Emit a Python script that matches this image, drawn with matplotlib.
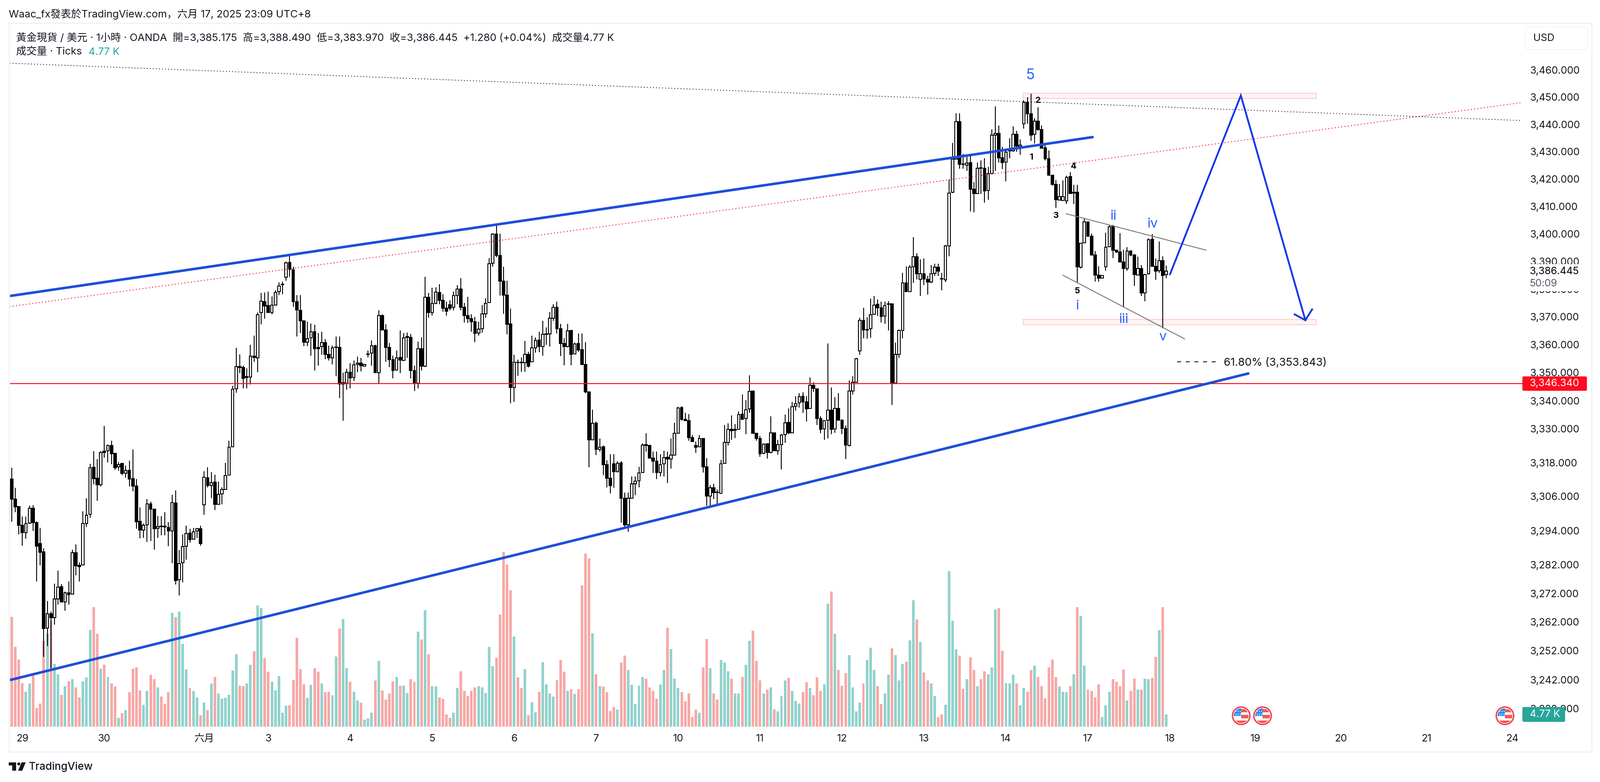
import matplotlib
matplotlib.use("Agg")
import matplotlib.pyplot as plt
from matplotlib.patches import Rectangle, Circle, Polygon, FancyBboxPatch
from matplotlib.transforms import Affine2D

W, H = 3670, 1794
plt.rcParams["font.family"] = ["Inter", "Noto Sans CJK JP", "Noto Sans CJK TC", "Noto Sans CJK SC"]

opens = [3311.0,3312.1,3305.0,3302.4,3295.8,3293.2,3296.6,3301.9,3296.8,3289.4,
3286.5,3259.8,3264.8,3263.5,3270.0,3274.3,3269.0,3272.2,3271.7,3286.2,
3281.8,3281.9,3296.4,3299.7,3316.3,3312.4,3310.1,3322.1,3322.2,3324.0,
3321.2,3316.4,3317.7,3314.2,3315.3,3312.3,3309.7,3297.2,3294.1,3296.0,
3303.4,3301.5,3294.8,3295.6,3295.5,3295.1,3293.9,3303.7,3276.7,3282.7,
3288.5,3293.1,3290.9,3293.8,3294.6,3303.1,3312.6,3309.9,3311.0,3303.2,
3306.9,3308.5,3313.6,3323.5,3344.2,3352.1,3351.8,3348.2,3348.4,3355.9,
3355.3,3371.6,3375.5,3374.1,3371.5,3374.3,3379.1,3381.6,3384.3,3389.7,
3387.0,3375.5,3372.3,3368.5,3360.9,3362.4,3364.7,3359.0,3359.3,3360.8,
3356.5,3355.3,3359.0,3359.1,3346.0,3346.3,3350.1,3348.2,3352.9,3353.4,
3352.3,3356.5,3357.0,3359.7,3350.0,3370.5,3365.3,3359.0,3354.7,3350.9,
3355.4,3354.3,3362.7,3362.6,3350.7,3346.2,3358.6,3352.3,3377.1,3371.6,
3374.8,3378.8,3375.9,3373.2,3374.4,3373.4,3377.7,3380.0,3373.5,3370.5,
3369.4,3368.2,3364.2,3365.7,3371.1,3375.1,3389.3,3399.9,3392.2,3382.9,
3377.9,3367.5,3344.6,3353.7,3353.7,3353.6,3356.5,3353.9,3358.9,3361.7,
3359.3,3363.7,3363.9,3369.5,3373.5,3365.7,3360.5,3359.3,3365.1,3356.7,
3360.5,3358.3,3352.9,3343.1,3326.1,3331.9,3322.6,3323.6,3317.3,3312.4,
3317.6,3314.7,3317.9,3305.3,3296.0,3305.3,3310.5,3311.6,3314.5,3324.3,
3324.0,3319.6,3318.4,3314.5,3317.5,3319.8,3319.2,3320.6,3328.4,3337.6,
3333.3,3332.9,3326.9,3324.0,3323.5,3326.5,3316.5,3306.1,3309.1,3307.5,
3307.0,3317.7,3325.2,3329.7,3329.4,3329.7,3335.2,3333.7,3337.0,3343.4,
3328.3,3326.5,3321.2,3324.7,3321.5,3328.5,3322.2,3324.4,3327.9,3332.2,
3328.5,3338.0,3339.2,3341.6,3339.6,3337.2,3345.4,3344.2,3333.7,3329.9,
3333.0,3336.6,3329.9,3337.2,3333.0,3330.1,3324.0,3343.5,3346.5,3357.7,
3368.7,3365.3,3365.7,3370.9,3374.5,3373.3,3370.3,3374.5,3374.7,3346.3,
3356.5,3365.2,3382.3,3379.1,3388.1,3391.7,3383.5,3385.5,3383.5,3382.5,
3385.7,3387.9,3383.8,3383.3,3395.6,3415.1,3427.2,3441.0,3425.5,3425.0,
3426.0,3416.3,3414.7,3424.1,3423.9,3415.7,3422.0,3436.1,3436.7,3427.7,
3426.1,3430.2,3430.3,3436.3,3431.9,3440.2,3448.1,3443.9,3436.3,3441.2,
3438.1,3431.4,3427.4,3421.3,3418.0,3412.3,3412.1,3411.9,3420.9,3414.8,
3415.2,3387.9,3396.8,3404.3,3399.2,3392.3,3385.1,3383.9,3388.1,3395.3,
3402.8,3394.1,3393.4,3389.8,3387.5,3393.8,3392.3,3385.1,3387.5,3378.7,
3385.5,3398.0,3388.3,3386.7,3390.3,3385.175]

highs = [3312.1,3316.2,3309.0,3302.5,3298.9,3298.9,3302.7,3302.9,3297.2,3295.0,
3287.7,3269.2,3265.6,3275.3,3279.9,3275.2,3272.6,3276.2,3287.3,3289.1,
3282.9,3300.7,3305.3,3317.5,3322.0,3319.2,3322.0,3331.0,3324.4,3325.8,
3321.3,3318.2,3317.7,3317.0,3318.6,3322.7,3312.1,3302.1,3296.5,3305.0,
3304.2,3301.5,3299.1,3299.1,3300.4,3297.0,3306.6,3308.2,3287.1,3292.7,
3295.7,3294.6,3295.0,3295.0,3295.7,3315.0,3316.3,3314.6,3313.7,3311.3,
3309.3,3317.8,3325.7,3345.3,3358.8,3356.5,3352.5,3351.6,3360.0,3363.3,
3371.6,3378.7,3378.8,3379.1,3377.3,3379.6,3382.4,3382.7,3390.0,3392.3,
3388.1,3377.9,3377.9,3368.7,3368.2,3367.6,3367.1,3364.2,3364.7,3362.0,
3359.7,3359.7,3362.9,3362.9,3350.0,3351.4,3353.4,3354.4,3355.7,3355.2,
3352.9,3357.9,3361.5,3359.9,3372.3,3370.9,3367.3,3360.6,3356.1,3357.9,
3365.1,3364.2,3364.4,3363.8,3352.5,3361.0,3362.6,3384.5,3378.7,3380.5,
3380.7,3381.8,3378.2,3375.5,3375.9,3379.1,3381.5,3384.0,3375.0,3377.2,
3370.9,3370.0,3368.2,3374.3,3376.7,3391.2,3400.2,3403.3,3400.0,3388.0,
3383.1,3372.9,3356.3,3354.6,3355.5,3361.3,3357.5,3363.3,3362.6,3364.7,
3368.5,3366.3,3371.7,3374.5,3375.5,3367.5,3362.3,3367.5,3365.1,3360.7,
3364.1,3364.1,3360.9,3343.1,3336.7,3332.5,3326.5,3324.0,3318.8,3321.0,
3321.0,3318.5,3318.5,3307.3,3307.3,3313.0,3313.0,3316.4,3324.8,3328.3,
3324.3,3321.8,3321.8,3321.0,3322.2,3321.8,3326.5,3332.1,3337.8,3338.0,
3335.6,3335.2,3327.7,3325.5,3327.7,3326.5,3319.6,3310.0,3310.4,3308.4,
3319.0,3331.3,3331.9,3334.8,3331.7,3336.2,3342.2,3340.1,3349.0,3343.4,
3328.3,3327.5,3324.8,3324.7,3334.4,3328.7,3326.1,3328.1,3335.1,3337.2,
3339.6,3341.6,3342.7,3342.9,3341.6,3348.3,3346.5,3344.2,3334.4,3333.0,
3360.5,3344.6,3341.2,3342.7,3333.3,3331.1,3347.1,3348.7,3355.3,3369.7,
3373.3,3369.9,3376.6,3377.5,3376.3,3375.5,3375.5,3375.7,3374.9,3360.7,
3365.5,3385.9,3388.2,3388.7,3398.8,3392.9,3390.7,3391.1,3384.7,3388.7,
3389.1,3389.1,3385.9,3396.0,3419.7,3433.1,3444.0,3444.0,3429.2,3428.0,
3429.2,3418.8,3426.0,3426.8,3427.6,3424.3,3438.1,3446.6,3439.6,3431.7,
3430.4,3434.9,3439.2,3437.7,3434.5,3448.8,3450.0,3451.2,3442.2,3446.2,
3439.6,3432.4,3430.4,3421.5,3419.6,3418.2,3419.4,3421.2,3422.5,3417.8,
3417.8,3396.8,3405.5,3404.4,3400.0,3393.8,3388.2,3385.1,3400.4,3403.1,
3403.2,3394.2,3400.2,3394.3,3395.2,3394.0,3392.6,3391.7,3388.7,3385.5,
3398.4,3399.9,3391.1,3397.2,3391.9,3388.49]

lows = [3311.0,3297.1,3300.4,3292.6,3288.6,3291.1,3296.3,3293.8,3276.2,3281.8,
3249.9,3253.7,3246.0,3261.0,3268.1,3268.9,3265.9,3268.1,3271.7,3278.2,
3276.2,3281.9,3295.3,3298.5,3310.3,3304.5,3309.6,3319.7,3318.0,3317.4,
3315.4,3315.1,3313.6,3312.6,3309.5,3307.9,3294.7,3291.2,3291.4,3290.0,
3290.3,3287.2,3291.4,3292.4,3292.4,3288.5,3282.6,3275.1,3271.3,3275.8,
3283.8,3289.7,3290.8,3291.4,3288.6,3299.5,3309.3,3305.3,3301.3,3303.2,
3303.2,3308.5,3313.6,3323.5,3342.8,3349.8,3344.3,3344.3,3345.8,3353.9,
3350.2,3367.3,3369.4,3371.4,3370.9,3374.1,3377.9,3378.2,3383.0,3384.5,
3373.6,3362.9,3364.2,3359.5,3359.5,3356.1,3350.7,3352.5,3356.3,3354.8,
3354.3,3352.9,3348.7,3340.9,3332.9,3343.9,3344.4,3347.0,3350.2,3350.5,
3352.3,3355.4,3352.5,3349.8,3346.2,3365.1,3353.9,3352.0,3347.9,3350.7,
3349.8,3354.3,3355.2,3348.0,3343.5,3344.4,3350.7,3352.0,3369.6,3370.5,
3374.6,3374.6,3371.9,3370.5,3372.3,3372.3,3374.6,3372.3,3368.0,3367.8,
3364.7,3360.9,3363.3,3364.3,3369.7,3375.1,3388.1,3391.6,3377.7,3371.1,
3363.7,3339.1,3339.5,3348.9,3350.3,3350.3,3351.9,3353.9,3357.1,3357.3,
3356.1,3359.9,3359.3,3368.5,3364.1,3355.9,3352.7,3359.0,3352.7,3356.5,
3357.5,3352.7,3342.7,3316.3,3326.1,3320.6,3321.8,3313.5,3309.2,3307.0,
3309.1,3314.5,3296.7,3295.3,3293.5,3305.3,3306.5,3309.2,3314.3,3321.8,
3319.4,3314.3,3312.2,3313.1,3313.1,3310.8,3315.9,3320.6,3328.4,3332.9,
3332.7,3325.8,3325.4,3321.4,3323.4,3314.5,3302.8,3302.8,3305.1,3303.3,
3307.0,3317.7,3324.0,3326.1,3326.7,3329.7,3333.3,3328.1,3335.6,3328.3,
3325.8,3320.0,3321.0,3319.4,3321.3,3322.2,3320.8,3315.5,3325.0,3328.1,
3328.4,3336.4,3337.6,3335.6,3332.5,3337.0,3343.1,3331.3,3328.3,3326.0,
3326.5,3328.0,3328.5,3332.9,3328.1,3319.2,3323.8,3342.2,3346.5,3356.3,
3362.3,3362.1,3362.4,3370.7,3370.3,3367.9,3367.5,3365.1,3338.4,3346.3,
3355.3,3362.3,3379.0,3379.1,3382.3,3383.5,3377.6,3381.5,3378.0,3382.3,
3384.7,3384.7,3379.5,3382.5,3391.8,3414.9,3427.2,3423.7,3423.7,3423.0,
3408.2,3407.8,3414.5,3414.5,3411.4,3412.5,3421.9,3423.0,3426.0,3423.6,
3419.1,3427.6,3430.0,3430.0,3428.8,3438.4,3440.2,3434.0,3433.0,3437.7,
3431.2,3426.8,3421.3,3417.6,3409.4,3412.1,3411.9,3410.9,3414.5,3410.9,
3382.3,3387.5,3396.8,3399.2,3392.3,3382.7,3382.7,3383.9,3386.7,3395.2,
3391.3,3393.1,3389.8,3373.6,3386.7,3391.9,3381.1,3385.1,3377.5,3375.6,
3385.3,3388.3,3383.3,3385.8,3365.9,3383.97]

closes = [3312.1,3305.0,3302.3,3295.8,3293.2,3296.5,3301.9,3296.7,3288.5,3286.3,
3259.7,3264.8,3263.5,3270.0,3274.2,3268.9,3272.2,3271.6,3286.2,3281.6,
3281.3,3296.4,3299.4,3316.2,3312.3,3310.1,3321.6,3321.6,3324.0,3321.1,
3316.2,3317.2,3314.1,3315.3,3312.2,3309.7,3297.1,3294.2,3295.9,3303.4,
3301.6,3294.7,3295.4,3295.4,3295.3,3293.8,3303.8,3276.5,3282.4,3288.4,
3293.0,3290.8,3293.6,3294.7,3289.4,3312.7,3309.9,3310.9,3303.2,3306.8,
3308.4,3313.4,3323.4,3344.1,3352.1,3351.9,3348.0,3348.5,3355.9,3355.4,
3370.7,3375.7,3373.9,3371.5,3374.2,3378.8,3381.2,3381.8,3389.5,3387.2,
3375.5,3372.5,3368.5,3360.9,3362.2,3364.6,3358.5,3358.6,3360.8,3356.5,
3355.2,3358.9,3359.2,3345.9,3346.4,3350.1,3348.1,3352.8,3353.4,3352.5,
3352.9,3356.7,3359.7,3350.0,3370.5,3365.3,3359.0,3354.7,3350.7,3355.2,
3354.5,3362.4,3362.9,3350.7,3346.2,3358.6,3352.3,3377.1,3371.6,3374.8,
3378.9,3375.9,3373.2,3372.1,3373.2,3377.7,3380.0,3373.5,3370.5,3369.4,
3368.2,3364.0,3365.6,3371.1,3374.9,3389.2,3399.9,3392.2,3382.9,3377.9,
3367.3,3344.6,3353.7,3353.5,3353.5,3356.5,3352.3,3358.9,3361.6,3359.3,
3363.7,3363.9,3369.5,3373.5,3365.7,3360.5,3359.3,3365.0,3356.5,3360.3,
3358.1,3352.9,3343.1,3326.1,3331.9,3322.6,3323.4,3317.3,3312.4,3309.8,
3314.7,3317.7,3305.3,3296.0,3305.3,3310.5,3311.4,3314.3,3324.2,3324.0,
3319.6,3318.4,3314.5,3317.2,3319.7,3319.2,3320.6,3328.3,3337.4,3333.3,
3332.9,3326.9,3325.5,3323.4,3326.5,3316.5,3306.1,3309.1,3307.4,3307.4,
3317.5,3325.2,3329.7,3329.3,3329.7,3335.1,3333.4,3336.8,3343.3,3328.3,
3326.5,3321.1,3324.5,3321.5,3328.5,3322.2,3324.3,3327.7,3332.1,3328.5,
3337.8,3339.0,3341.4,3339.6,3337.1,3345.4,3344.3,3333.7,3329.7,3332.9,
3336.6,3329.7,3337.2,3333.1,3330.1,3324.2,3343.5,3346.5,3354.9,3368.7,
3365.3,3365.5,3370.7,3374.3,3373.3,3370.1,3374.1,3374.7,3346.3,3356.5,
3365.1,3382.3,3379.1,3387.9,3391.7,3385.5,3385.5,3383.7,3382.5,3385.5,
3387.9,3386.5,3383.6,3395.6,3414.9,3427.2,3441.0,3425.4,3425.4,3425.8,
3416.3,3414.7,3423.9,3423.9,3415.6,3421.9,3436.1,3436.7,3427.7,3426.0,
3429.8,3430.4,3436.3,3432.0,3432.4,3448.1,3443.9,3436.1,3441.2,3438.1,
3431.2,3427.4,3421.3,3418.0,3412.5,3413.5,3413.5,3420.6,3414.7,3415.2,
3388.1,3396.6,3404.3,3399.2,3392.3,3385.1,3383.9,3384.9,3395.2,3402.6,
3394.1,3393.4,3389.8,3387.5,3393.8,3392.3,3385.3,3387.5,3378.7,3385.3,
3397.8,3388.3,3386.5,3390.3,3384.9,3386.445]

volumes_k = [21.3,43.0,31.2,26.3,17.1,13.7,16.9,20.0,7.4,9.1,
33.5,36.3,41.4,24.6,20.5,12.5,15.8,17.8,18.6,15.4,
11.5,17.8,19.2,37.9,46.7,36.3,22.7,24.2,19.5,16.8,
15.6,3.4,5.2,6.5,13.4,22.7,23.1,14.2,8.6,14.0,
20.2,18.5,15.4,11.7,8.8,13.4,44.5,42.8,45.0,32.3,
22.4,15.2,14.0,11.5,4.4,9.4,6.4,16.9,19.4,13.0,
10.9,11.3,12.5,21.9,28.3,16.1,15.8,16.8,24.2,29.4,
47.4,46.4,26.8,21.4,17.5,14.2,19.8,5.5,8.1,8.4,
18.3,34.8,22.5,16.6,11.3,16.3,22.9,21.4,16.9,13.4,
13.7,12.2,27.5,38.4,42.1,22.9,17.5,13.7,10.3,9.3,
2.8,3.2,5.5,18.0,25.8,14.2,10.5,13.0,17.8,19.4,
16.1,16.1,13.2,18.6,17.5,37.2,34.1,45.5,28.2,15.8,
15.6,11.5,10.9,4.7,3.4,5.4,15.2,21.7,14.0,12.0,
13.9,15.4,15.8,15.4,13.2,31.1,23.6,27.0,43.8,68.3,
63.4,53.3,35.3,19.2,15.1,22.5,4.5,9.6,5.7,13.7,
25.3,16.6,13.0,11.7,18.3,26.0,21.5,14.0,14.6,12.7,
14.6,55.2,67.6,65.8,36.5,20.5,15.8,15.6,13.4,6.1,
7.6,6.7,25.0,27.7,22.1,16.3,8.8,16.1,19.4,18.8,
15.4,13.9,10.9,16.6,22.2,38.7,30.4,18.8,15.2,13.4,
9.8,13.0,3.8,6.7,5.4,23.1,34.3,22.9,13.0,10.5,
26.0,25.1,21.7,18.8,13.0,12.9,19.5,24.2,33.6,37.5,
25.8,18.0,12.9,14.4,15.4,6.9,5.9,12.0,18.0,19.0,
13.9,10.0,9.0,13.4,17.3,15.2,12.2,19.2,14.0,16.6,
48.1,52.8,36.3,22.2,16.1,21.0,28.0,15.4,5.9,9.3,
16.8,26.1,30.9,22.1,15.9,8.8,12.9,20.2,30.7,28.0,
18.0,24.6,25.4,33.8,49.4,41.9,33.1,21.2,18.1,16.8,
11.9,3.8,4.7,8.6,60.8,41.4,30.2,27.7,14.8,18.6,
27.1,22.2,15.9,18.6,21.7,20.5,23.2,45.8,46.4,29.6,
17.1,16.8,20.2,16.8,8.3,15.1,13.7,22.1,23.9,19.4,
15.9,11.0,23.2,26.3,19.5,15.6,13.7,13.4,15.9,20.5,
46.7,43.3,23.8,14.4,13.9,11.5,16.5,3.8,8.4,13.7,
18.5,17.5,15.8,22.4,10.3,14.0,18.8,14.4,14.4,18.8,
18.6,19.0,27.3,37.7,46.6,4.77]

date_tick_bars = [4,27,55,73,96,119,142,165,188,211,234,257,280,303,326,350,374,398,422]
date_tick_labels = ["29","30","六月","3","4","5","6","7","10","11","12","13","14","17","18","19","20","21","24"]
price_ticks = [3460,3450,3440,3430,3420,3410,3400,3390,3380,3370,3360,3350,3340,3330,
               3318,3306,3294,3282,3272,3262,3252,3242,3232]

support_level = 3346.1
upper_trend = ([0.4, 304.3], [3377.5, 3435.3])
lower_trend = ([0.4, 348.0], [3241.8, 3349.7])
red_dotted = ([0.4, 424.3], [3373.7, 3447.9])
black_dotted = ([0.4, 424.3], [3462.5, 3441.4])
wedge_upper = ([296.9, 336.1], [3407.3, 3394.1])
wedge_lower = ([296.0, 330.1], [3385.0, 3362.1])
projection = ([326.0, 345.9, 364.0], [3385.3, 3450.6, 3368.8])
arrow_left = ([361.0, 364.0], [3370.9, 3368.8])
arrow_right = ([365.9, 364.0], [3372.7, 3368.8])
zone_top = (284.8, 367.0, 3449.4, 3451.4)
zone_bottom = (284.8, 367.0, 3367.2, 3369.1)
fib_x = [328.0, 339.1]
fib_price = 3353.843

TXT = "#131722"
TEAL = "#26a69a"
UP_V = "#92d2cc"
DOWN_V = "#f7a9a7"
THICK = "#1c4ed8"
ARROW = "#1238e8"
WAVE = "#2962ff"
RED = "#ff0a1e"
BORDER = "#f0f2f5"
FS = 16.6
HEAD = 17

fig = plt.figure(figsize=(W/100, H/100), dpi=100, facecolor="white")
px = Affine2D().scale(1, -1).translate(0, H)
L, R, T, B = 22, 3492, 54, 1670
rect = [L/W, 1-B/H, (R-L)/W, (B-T)/H]

vax = fig.add_axes(rect, zorder=1)
ax = fig.add_axes(rect, zorder=2)
ax.patch.set_visible(False)

idx = list(range(len(closes)))
xlim = (0.416, 424.9)
up = [c >= o for o, c in zip(opens, closes)]

vax.bar(idx, volumes_k, width=0.73, color=[UP_V if u else DOWN_V for u in up], linewidth=0)
vax.set_xlim(*xlim)
vax.set_ylim(-0.51, 274.8)
vax.axis("off")

ax.set_yscale("log")
ax.vlines(idx, lows, highs, color="black", linewidth=1.45, zorder=2)
ax.bar(idx, [abs(c-o) for o, c in zip(opens, closes)],
       bottom=[min(o, c) for o, c in zip(opens, closes)],
       width=0.70, color=["white" if u else "black" for u in up],
       edgecolor="black", linewidth=1.45, zorder=3)

ax.axhline(support_level, color=RED, linewidth=1.6, zorder=4)
ax.plot(*red_dotted, color=RED, linewidth=1.5, linestyle=(0, (1, 2.6)), zorder=4)
ax.plot(*black_dotted, color="#222222", linewidth=1.4, linestyle=(0, (1, 2.6)), zorder=4)
ax.plot(*upper_trend, color=THICK, linewidth=4.2, solid_capstyle="round", zorder=6)
ax.plot(*lower_trend, color=THICK, linewidth=4.2, solid_capstyle="round", zorder=6)
ax.plot(*wedge_upper, color="#787878", linewidth=1.5, zorder=5)
ax.plot(*wedge_lower, color="#787878", linewidth=1.5, zorder=5)
for x0, x1, y0, y1 in (zone_top, zone_bottom):
    ax.add_patch(Rectangle((x0, y0), x1-x0, y1-y0, facecolor="#fff4f4", edgecolor="#ffcdd0",
                           linewidth=1.5, zorder=1.5))
ax.plot(*projection, color=ARROW, linewidth=3.0, solid_capstyle="round", solid_joinstyle="miter", zorder=6)
ax.plot(*arrow_left, color=ARROW, linewidth=3.0, zorder=6)
ax.plot(*arrow_right, color=ARROW, linewidth=3.0, zorder=6)
ax.plot(fib_x, [fib_price, fib_price], color="black", linewidth=1.3, linestyle=(0, (5, 6)), zorder=5)

ax.set_xlim(*xlim)
ax.set_ylim(3225.3, 3477.2)
ax.yaxis.tick_right()
ax.set_yticks(price_ticks)
ax.set_yticklabels([f"{p:,.3f}" for p in price_ticks], fontsize=FS, color=TXT)
ax.minorticks_off()
ax.set_xticks(date_tick_bars)
ax.set_xticklabels(date_tick_labels, fontsize=FS, color=TXT)
ax.tick_params(axis="y", length=0, pad=12.5)
ax.tick_params(axis="x", length=0, pad=10)
for s in ax.spines.values():
    s.set_visible(False)

def add(p):
    p.set_transform(px)
    p.set_zorder(5)
    fig.add_artist(p)
    return p

def txt(x, y, s, size=FS, color=TXT, ha="left", va="center", **kw):
    return fig.text(x, y, s, transform=px, fontsize=size, color=color, ha=ha, va=va, zorder=6, **kw)

# panel frame and currency button
add(Rectangle((20.5, 53), 3630, 1672, facecolor="none", edgecolor=BORDER, linewidth=2.2))
add(FancyBboxPatch((3498, 62), 144, 52, boxstyle="round,pad=0,rounding_size=10",
                   facecolor="white", edgecolor=BORDER, linewidth=1.2))
txt(3517, 88, "USD")

# header
txt(20, 33, "Waac_fx發表於TradingView.com，六月 17, 2025 23:09 UTC+8", size=HEAD)
txt(37, 87, "黃金現貨 / 美元 · 1小時 · OANDA  開=3,385.175  高=3,388.490  低=3,383.970  收=3,386.445  +1.280 (+0.04%)  成交量4.77 K", size=HEAD)
txt(37, 120, "成交量 · Ticks", size=HEAD)
txt(203, 120, "4.77 K", size=HEAD, color=TEAL)

# last price tag and countdown
add(Rectangle((3495, 606), 145, 62, facecolor="white", edgecolor="none"))
txt(3509, 622.7, "3,386.445", color="#000000")
txt(3509, 650.7, "50:09", color="#555a66")

# line and volume tags
add(FancyBboxPatch((3492, 863.5), 148, 33, boxstyle="round,pad=0,rounding_size=3",
                   facecolor=RED, edgecolor="none"))
txt(3509, 879.5, "3,346.340", color="white")
add(FancyBboxPatch((3492, 1622), 98, 34, boxstyle="round,pad=0,rounding_size=3",
                   facecolor=TEAL, edgecolor="none"))
txt(3509, 1639, "4.77 K", color="white")

# wave labels
txt(2364, 173, "5", size=24, color=WAVE, ha="center")
for x, y, s in [(2381, 231, "2"), (2365, 361, "1"), (2463, 382, "4"), (2422, 495, "3"), (2471, 668, "5")]:
    txt(x, y, s, size=14, color="black", ha="center", fontweight="bold")
for x, y, s in [(2553, 496, "ii"), (2643, 514, "iv"), (2471, 702, "i"), (2577, 733, "iii"), (2667, 773, "v")]:
    txt(x, y, s, size=22, color=WAVE, ha="center")
txt(2807, 832, "61.80% (3,353.843)", size=18, color="#111111")

# event flags
for cx in (2847, 2896, 3452):
    cy = 1642
    add(Circle((cx, cy), 20, facecolor="white", edgecolor="none"))
    clip = Circle((cx, cy), 17, transform=px)
    for (x0, y0, w, h, c) in [(cx, cy-15, 17, 7, "#f05a5a"), (cx, cy-2, 17, 8, "#f05a5a"),
                              (cx-17, cy+11, 34, 8, "#f05a5a"), (cx-17, cy-17, 17, 18, "#2f8cf0")]:
        r = add(Rectangle((x0, y0), w, h, facecolor=c, edgecolor="none"))
        r.set_clip_path(clip)
    for dx in (-12, -7, -2):
        for dy in (-10, -4, 0):
            add(Circle((cx+dx, cy+dy), 1.1, facecolor="white", edgecolor="none"))
    add(Circle((cx, cy), 20, facecolor="none", edgecolor="#f23645", linewidth=2.2))

# footer logo
add(Polygon([(20, 1749), (37, 1749), (37, 1768), (28, 1768), (28, 1756), (20, 1756)], facecolor="#131722", edgecolor="none"))
add(Circle((43, 1752.5), 3.5, facecolor="#131722", edgecolor="none"))
add(Polygon([(49.5, 1749), (59, 1749), (51, 1768), (41.5, 1768)], facecolor="#131722", edgecolor="none"))
txt(66, 1759, "TradingView", size=17.5, fontweight="medium")

fig.savefig("out.png", dpi=100, facecolor="white")
